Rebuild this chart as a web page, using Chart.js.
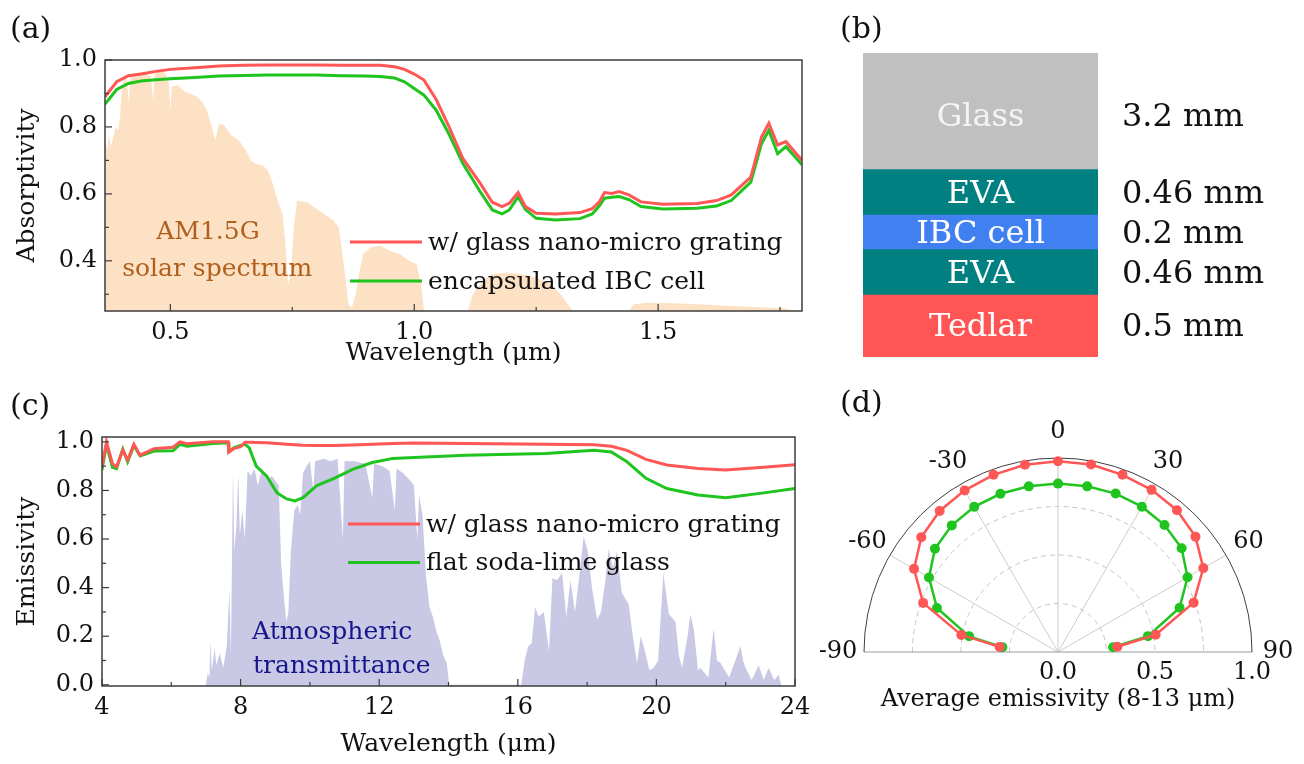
<!DOCTYPE html>
<html>
<head>
<meta charset="utf-8">
<script src="https://cdn.jsdelivr.net/npm/chart.js@4.4.1/dist/chart.umd.min.js"></script>
<style>
  html, body { margin: 0; padding: 0; background: #fff; overflow: hidden; }
  #page { position: relative; width: 1304px; height: 764px; overflow: hidden; font-family: 'DejaVu Serif', serif; }
  canvas { position: absolute; }
  .tag { position: absolute; font-size: 30px; line-height: 34px; color: #111; }
</style>
</head>
<body>
<div id="page">
  <canvas id="abs-chart" style="left:0;top:0" width="820" height="380"></canvas>
  <canvas id="stack-chart" style="left:820px;top:0" width="484" height="380"></canvas>
  <canvas id="em-chart" style="left:0;top:380px" width="820" height="384"></canvas>
  <canvas id="polar-chart" style="left:820px;top:400px" width="484" height="364"></canvas>
  <div class="tag" style="left:10px;top:11px">(a)</div>
  <div class="tag" style="left:840px;top:11px">(b)</div>
  <div class="tag" style="left:10px;top:388px">(c)</div>
  <div class="tag" style="left:840px;top:385px">(d)</div>
</div>
<script>
// (a) absorptivity
const absWl = [0.366, 0.39, 0.414, 0.44, 0.47, 0.5, 0.55, 0.6, 0.65, 0.7, 0.75, 0.8, 0.85, 0.9, 0.93, 0.96, 0.98, 1.0, 1.02, 1.045, 1.07, 1.1, 1.135, 1.16, 1.18, 1.195, 1.213, 1.228, 1.25, 1.29, 1.34, 1.365, 1.38, 1.39, 1.405, 1.42, 1.44, 1.465, 1.51, 1.58, 1.62, 1.65, 1.69, 1.712, 1.727, 1.745, 1.762, 1.795];
const absGrating = [0.89, 0.935, 0.953, 0.958, 0.966, 0.972, 0.977, 0.982, 0.984, 0.985, 0.985, 0.985, 0.984, 0.984, 0.984, 0.98, 0.972, 0.958, 0.94, 0.882, 0.805, 0.705, 0.632, 0.575, 0.562, 0.572, 0.604, 0.562, 0.542, 0.54, 0.544, 0.556, 0.577, 0.604, 0.601, 0.607, 0.597, 0.576, 0.569, 0.571, 0.58, 0.597, 0.65, 0.77, 0.811, 0.746, 0.756, 0.70];
const absIbc = [0.868, 0.912, 0.93, 0.937, 0.941, 0.944, 0.948, 0.952, 0.954, 0.955, 0.955, 0.955, 0.953, 0.952, 0.951, 0.946, 0.935, 0.915, 0.895, 0.85, 0.782, 0.69, 0.607, 0.552, 0.54, 0.552, 0.591, 0.553, 0.527, 0.522, 0.526, 0.54, 0.565, 0.587, 0.59, 0.592, 0.583, 0.562, 0.555, 0.557, 0.564, 0.58, 0.635, 0.75, 0.79, 0.72, 0.741, 0.687];
const solarWl = [0.366, 0.37, 0.374, 0.378, 0.383, 0.388, 0.393, 0.397, 0.40, 0.405, 0.41, 0.415, 0.418, 0.43, 0.44, 0.45, 0.46, 0.465, 0.468, 0.48, 0.49, 0.497, 0.5, 0.503, 0.515, 0.53, 0.54, 0.555, 0.565, 0.575, 0.585, 0.592, 0.60, 0.61, 0.625, 0.64, 0.655, 0.665, 0.675, 0.69, 0.70, 0.71, 0.72, 0.73, 0.736, 0.741, 0.747, 0.753, 0.76, 0.78, 0.80, 0.82, 0.835, 0.845, 0.852, 0.858, 0.865, 0.872, 0.88, 0.888, 0.895, 0.91, 0.93, 0.95, 0.97, 0.99, 1.005, 1.015, 1.02, 1.11, 1.12, 1.14, 1.16, 1.19, 1.22, 1.25, 1.28, 1.30, 1.315, 1.325, 1.44, 1.45, 1.48, 1.52, 1.58, 1.64, 1.70, 1.76, 1.78, 1.795];
const solarVal = [0.76, 0.73, 0.78, 0.74, 0.77, 0.80, 0.79, 0.83, 0.91, 0.95, 0.955, 0.87, 0.955, 0.96, 0.965, 0.96, 0.95, 0.88, 0.96, 0.97, 0.96, 0.93, 0.85, 0.92, 0.925, 0.905, 0.90, 0.89, 0.875, 0.85, 0.80, 0.76, 0.81, 0.805, 0.775, 0.76, 0.73, 0.70, 0.69, 0.685, 0.67, 0.63, 0.58, 0.54, 0.45, 0.33, 0.36, 0.50, 0.58, 0.575, 0.555, 0.535, 0.52, 0.50, 0.43, 0.36, 0.27, 0.26, 0.30, 0.37, 0.42, 0.44, 0.445, 0.43, 0.42, 0.40, 0.39, 0.32, 0.25, 0.25, 0.30, 0.34, 0.36, 0.365, 0.36, 0.35, 0.33, 0.30, 0.27, 0.25, 0.25, 0.27, 0.275, 0.274, 0.27, 0.266, 0.262, 0.258, 0.25, 0.25];
const absXTicks = [0.5, 1.0, 1.5];
const absYTicks = [0.4, 0.6, 0.8, 1.0];

// (b) layer stack, top to bottom
const layerNames = ['Glass', 'EVA', 'IBC cell', 'EVA', 'Tedlar'];
const layerThickness = ['3.2 mm', '0.46 mm', '0.2 mm', '0.46 mm', '0.5 mm'];
const layerDrawn = [1.15, 0.45, 0.34, 0.45, 0.61];

// (c) emissivity
const emWl = [4.0, 4.13, 4.3, 4.42, 4.6, 4.74, 4.92, 5.1, 5.5, 6.05, 6.25, 6.45, 7.2, 7.64, 7.66, 7.8, 8.0, 8.13, 8.25, 8.45, 8.75, 9.05, 9.33, 9.57, 9.8, 10.2, 10.7, 11.25, 11.8, 12.4, 13.0, 14.5, 16.8, 18.2, 18.7, 19.15, 19.7, 20.3, 21.2, 22.0, 23.1, 24.0];
const emGrating = [0.897, 1.0, 0.91, 0.897, 0.966, 0.925, 0.99, 0.945, 0.972, 0.978, 1.0, 0.992, 1.0, 1.0, 0.958, 0.972, 0.98, 0.998, 0.998, 0.997, 0.996, 0.993, 0.99, 0.988, 0.986, 0.985, 0.985, 0.987, 0.99, 0.993, 0.995, 0.993, 0.99, 0.988, 0.982, 0.965, 0.928, 0.905, 0.89, 0.884, 0.895, 0.906];
const emFlat = [0.884, 0.99, 0.895, 0.89, 0.97, 0.918, 0.985, 0.942, 0.962, 0.963, 0.99, 0.982, 0.993, 0.996, 0.96, 0.975, 0.985, 0.99, 0.975, 0.9, 0.86, 0.79, 0.765, 0.757, 0.77, 0.82, 0.85, 0.888, 0.915, 0.932, 0.936, 0.945, 0.952, 0.965, 0.958, 0.918, 0.85, 0.808, 0.781, 0.77, 0.79, 0.808];
const atmWl = [7.0, 7.05, 7.1, 7.13, 7.17, 7.25, 7.3, 7.4, 7.5, 7.6, 7.68, 7.72, 7.78, 7.82, 7.88, 7.93, 7.98, 8.05, 8.12, 8.2, 8.3, 8.4, 8.5, 8.6, 8.7, 8.8, 8.9, 9.0, 9.1, 9.17, 9.25, 9.32, 9.38, 9.45, 9.55, 9.65, 9.72, 9.8, 9.9, 10.0, 10.1, 10.15, 10.4, 10.6, 10.8, 10.95, 11.0, 11.3, 11.6, 11.8, 11.85, 12.1, 12.3, 12.45, 12.5, 12.7, 12.9, 13.0, 13.1, 13.15, 13.25, 13.35, 13.45, 13.55, 13.65, 13.75, 13.85, 13.95, 14.02, 16.1, 16.2, 16.3, 16.4, 16.5, 16.6, 16.75, 16.9, 17.0, 17.13, 17.28, 17.4, 17.52, 17.65, 17.76, 17.9, 18.02, 18.14, 18.29, 18.4, 18.53, 18.62, 18.75, 18.86, 19.0, 19.2, 19.32, 19.44, 19.55, 19.63, 19.8, 19.92, 20.05, 20.2, 20.36, 20.55, 20.65, 20.74, 20.9, 20.98, 21.08, 21.2, 21.27, 21.5, 21.65, 21.75, 21.85, 22.1, 22.43, 22.5, 22.57, 22.75, 22.95, 23.1, 23.24, 23.4, 23.53, 23.6];
const atmVal = [0, 0.05, 0.03, 0.18, 0.06, 0.15, 0.08, 0.13, 0.07, 0.16, 0.39, 0.12, 0.88, 0.55, 0.66, 0.87, 0.62, 0.72, 0.6, 0.88, 0.86, 0.89, 0.82, 0.88, 0.87, 0.84, 0.86, 0.84, 0.82, 0.5, 0.36, 0.26, 0.3, 0.55, 0.72, 0.74, 0.7, 0.87, 0.9, 0.92, 0.8, 0.92, 0.93, 0.92, 0.93, 0.6, 0.92, 0.92, 0.91, 0.77, 0.91, 0.9, 0.88, 0.72, 0.89, 0.87, 0.84, 0.82, 0.6, 0.78, 0.7, 0.45, 0.32, 0.28, 0.22, 0.18, 0.12, 0.09, 0, 0, 0.1, 0.16, 0.17, 0.32, 0.28, 0.3, 0.14, 0.44, 0.43, 0.46, 0.28, 0.43, 0.3, 0.43, 0.61, 0.55, 0.4, 0.27, 0.3, 0.43, 0.56, 0.48, 0.55, 0.38, 0.33, 0.2, 0.09, 0.2, 0.16, 0.06, 0.07, 0.1, 0.46, 0.29, 0.26, 0.12, 0.07, 0.2, 0.29, 0.23, 0.06, 0.07, 0.03, 0.23, 0.1, 0.09, 0.03, 0.16, 0.1, 0.07, 0.02, 0.08, 0.02, 0.07, 0.02, 0.04, 0];
const emXTicks = [4, 8, 12, 16, 20, 24];
const emYTicks = [0.0, 0.2, 0.4, 0.6, 0.8, 1.0];

// (d) angular average emissivity 8-13 um (angle in degrees, radius = emissivity)
const polarAngles = [-85, -80, -70, -60, -50, -40, -30, -20, -10, 0, 10, 20, 30, 40, 50, 60, 70, 80, 85];
const polarGrating = [0.302, 0.506, 0.74, 0.857, 0.92, 0.949, 0.962, 0.972, 0.98, 0.983, 0.981, 0.972, 0.965, 0.954, 0.925, 0.865, 0.744, 0.511, 0.307];
const polarFlat = [0.288, 0.465, 0.664, 0.768, 0.828, 0.852, 0.864, 0.868, 0.867, 0.868, 0.867, 0.869, 0.865, 0.854, 0.832, 0.771, 0.667, 0.471, 0.285];
const polarTicks = [0.0, 0.5, 1.0];
const polarRings = [0.25, 0.5, 0.75];
const polarAngleTicks = [-90, -60, -30, 0, 30, 60, 90];

const RED = '#ff5656';
const GREEN = '#1fc41f';
const SERIF = "'DejaVu Serif', serif";

Chart.defaults.font.family = SERIF;
Chart.defaults.font.size = 24;
Chart.defaults.color = '#111';
Chart.defaults.animation = false;
Chart.defaults.plugins.legend.display = false;
Chart.defaults.plugins.tooltip.enabled = false;

const pairs = (xs, ys) => xs.map((x, i) => ({x: x, y: ys[i]}));

// box around the plot with inward major/minor ticks
const framePlugin = {
    id: 'frame',
    afterDatasetsDraw(chart) {
        const {ctx, chartArea: a, scales} = chart;
        ctx.save();
        ctx.strokeStyle = '#3c3c3c';
        ctx.lineWidth = 1.5;
        ctx.strokeRect(a.left, a.top, a.right - a.left, a.bottom - a.top);
        ctx.lineWidth = 1.2;
        ['x', 'y'].forEach(id => {
            const s = scales[id];
            const major = s.ticks.map(t => t.value);
            const step = major[1] - major[0];
            const marks = major.map(v => [v, 7]);
            for (let v = major[0] - step / 2; v <= major[major.length - 1] + step; v += step) marks.push([v, 4]);
            marks.forEach(([v, len]) => {
                if (v < s.min - 1e-9 || v > s.max + 1e-9) return;
                const p = s.getPixelForValue(v);
                ctx.beginPath();
                if (id === 'x') { ctx.moveTo(p, a.bottom); ctx.lineTo(p, a.bottom - len); }
                else { ctx.moveTo(a.left, p); ctx.lineTo(a.left + len, p); }
                ctx.stroke();
            });
        });
        ctx.restore();
    }
};

function lineLegend(left, top, gap) {
    return {
        id: 'lineLegend',
        afterDatasetsDraw(chart) {
            const {ctx, chartArea: a} = chart;
            ctx.save();
            ctx.font = '25px ' + SERIF;
            ctx.textBaseline = 'middle';
            ctx.fillStyle = '#111';
            chart.data.datasets.filter(d => d.inLegend).forEach((d, i) => {
                const x = a.left + left;
                const y = a.top + top + i * gap;
                ctx.strokeStyle = d.borderColor;
                ctx.lineWidth = 3;
                ctx.beginPath();
                ctx.moveTo(x, y);
                ctx.lineTo(x + 72, y);
                ctx.stroke();
                ctx.fillText(d.label, x + 78, y + 1);
            });
            ctx.restore();
        }
    };
}

function notes(lines, color, align) {
    return {
        id: 'notes',
        afterDatasetsDraw(chart) {
            const {ctx, scales: {x, y}} = chart;
            ctx.save();
            ctx.font = '25px ' + SERIF;
            ctx.fillStyle = color;
            ctx.textAlign = align;
            ctx.textBaseline = 'middle';
            lines.forEach(l => ctx.fillText(l[0], x.getPixelForValue(l[1]), y.getPixelForValue(l[2])));
            ctx.restore();
        }
    };
}

function xAxis(min, max, ticks, fmt, height) {
    return {
        type: 'linear', min: min, max: max,
        afterBuildTicks: s => { s.ticks = ticks.map(v => ({value: v})); },
        afterFit: s => { s.height = height; },
        grid: {display: false, drawTicks: false},
        border: {display: false},
        ticks: {padding: 7, maxRotation: 0, callback: fmt},
        title: {display: true, text: 'Wavelength (μm)', padding: 0, font: {size: 25}}
    };
}

function yAxis(min, max, ticks, title, width) {
    return {
        type: 'linear', min: min, max: max,
        afterBuildTicks: s => { s.ticks = ticks.map(v => ({value: v})); },
        afterFit: s => { s.width = width; },
        grid: {display: false, drawTicks: false},
        border: {display: false},
        ticks: {padding: 8, callback: v => v.toFixed(1)},
        title: {display: true, text: title, padding: 0, font: {size: 25}}
    };
}

const curve = (label, color, data) => ({
    label: label, data: data, inLegend: true,
    borderColor: color, backgroundColor: color,
    borderWidth: 3, pointRadius: 0, fill: false, tension: 0
});

// (a)
new Chart(document.getElementById('abs-chart'), {
    type: 'line',
    data: {
        datasets: [
            curve('w/ glass nano-micro grating', RED, pairs(absWl, absGrating)),
            curve('encapsulated IBC cell', GREEN, pairs(absWl, absIbc)),
            {
                label: 'AM1.5G', data: pairs(solarWl, solarVal),
                borderWidth: 0, pointRadius: 0, fill: 'start',
                backgroundColor: '#fde1c4', tension: 0
            }
        ]
    },
    options: {
        responsive: false,
        layout: {padding: {left: 12, top: 60, right: 18, bottom: 12}},
        scales: {
            x: xAxis(0.366, 1.795, absXTicks, v => v.toFixed(1), 57),
            y: yAxis(0.25, 1.0, absYTicks, 'Absorptivity', 93)
        }
    },
    plugins: [
        notes([['AM1.5G', 0.577, 0.484], ['solar spectrum', 0.596, 0.373]], '#b0601c', 'center'),
        lineLegend(245, 182, 39),
        framePlugin
    ]
});

// (b)
const layerColors = ['#c0c0c0', '#008080', '#4080f0', '#008080', '#ff5555'];
const layerText = {
    id: 'layerText',
    afterDatasetsDraw(chart) {
        const {ctx, chartArea: a} = chart;
        ctx.save();
        ctx.font = '32px ' + SERIF;
        ctx.textBaseline = 'middle';
        chart.data.datasets.forEach((d, i) => {
            const bar = chart.getDatasetMeta(i).data[0];
            const y = (bar.y + bar.base) / 2 + (d.label === 'Glass' ? 6 : 2);
            ctx.textAlign = 'center';
            ctx.fillStyle = d.label === 'Glass' ? '#f4f4f4' : '#ffffff';
            ctx.fillText(d.label, bar.x, y);
            ctx.textAlign = 'left';
            ctx.fillStyle = '#111';
            ctx.fillText(d.thickness, a.right + 24, y);
        });
        ctx.restore();
    }
};
new Chart(document.getElementById('stack-chart'), {
    type: 'bar',
    data: {
        labels: ['module'],
        datasets: layerNames.map((name, i) => ({
            label: name, thickness: layerThickness[i], data: [layerDrawn[i]],
            backgroundColor: layerColors[i], borderWidth: 0,
            barPercentage: 1, categoryPercentage: 1
        })).reverse()
    },
    options: {
        responsive: false,
        layout: {padding: {left: 43, right: 206, top: 53, bottom: 23}},
        scales: {
            x: {display: false, stacked: true},
            y: {display: false, stacked: true, min: 0, max: 3.0}
        }
    },
    plugins: [layerText]
});

// (c)
new Chart(document.getElementById('em-chart'), {
    type: 'line',
    data: {
        datasets: [
            curve('w/ glass nano-micro grating', RED, pairs(emWl, emGrating)),
            curve('flat soda-lime glass', GREEN, pairs(emWl, emFlat)),
            {
                label: 'Atmospheric transmittance', data: pairs(atmWl, atmVal),
                borderWidth: 0, pointRadius: 0, fill: 'start',
                backgroundColor: '#c9c9e5', tension: 0
            }
        ]
    },
    options: {
        responsive: false,
        layout: {padding: {left: 12, top: 57, right: 25, bottom: 5}},
        scales: {
            x: xAxis(4, 24, emXTicks, v => String(v), 73),
            y: yAxis(-0.005, 1.02, emYTicks, 'Emissivity', 90)
        }
    },
    plugins: [
        notes([['Atmospheric', 8.33, 0.214], ['transmittance', 8.36, 0.074]], '#16168c', 'left'),
        lineLegend(246, 87, 38.4),
        framePlugin
    ]
});

// (d) half polar plot: angle/radius pairs projected onto equal x/y linear scales
const toPlane = vals => polarAngles.map((a, i) => {
    const t = a * Math.PI / 180;
    return {x: vals[i] * Math.sin(t), y: vals[i] * Math.cos(t)};
});
const polarGrid = {
    id: 'polarGrid',
    beforeDatasetsDraw(chart) {
        const {ctx, scales: {x, y}} = chart;
        const cx = x.getPixelForValue(0), cy = y.getPixelForValue(0);
        const R = x.getPixelForValue(1) - cx;
        ctx.save();
        ctx.lineWidth = 1;
        ctx.strokeStyle = '#c4c4c4';
        ctx.setLineDash([5, 4]);
        polarRings.forEach(v => {
            ctx.beginPath();
            ctx.arc(cx, cy, x.getPixelForValue(v) - cx, Math.PI, 2 * Math.PI);
            ctx.stroke();
        });
        ctx.setLineDash([]);
        ctx.strokeStyle = '#cccccc';
        polarAngleTicks.forEach(a => {
            if (Math.abs(a) === 90) return;
            const t = a * Math.PI / 180;
            ctx.beginPath();
            ctx.moveTo(cx, cy);
            ctx.lineTo(cx + R * Math.sin(t), cy - R * Math.cos(t));
            ctx.stroke();
        });
        ctx.strokeStyle = '#9a9a9a';
        ctx.beginPath();
        ctx.moveTo(cx - R, cy);
        ctx.lineTo(cx + R, cy);
        ctx.stroke();
        ctx.strokeStyle = '#3f3f3f';
        ctx.beginPath();
        ctx.arc(cx, cy, R, Math.PI, 2 * Math.PI);
        ctx.stroke();
        ctx.restore();
    },
    afterDraw(chart) {
        const {ctx, scales: {x, y}} = chart;
        const cx = x.getPixelForValue(0), cy = y.getPixelForValue(0);
        const R = x.getPixelForValue(1) - cx + 26;
        ctx.save();
        ctx.fillStyle = '#111';
        ctx.font = '24px ' + SERIF;
        ctx.textAlign = 'center';
        ctx.textBaseline = 'middle';
        polarAngleTicks.forEach(a => {
            const t = a * Math.PI / 180;
            ctx.fillText(String(a), cx + R * Math.sin(t), cy - R * Math.cos(t));
        });
        ctx.restore();
    }
};
const polarSet = (label, color, vals) => ({
    label: label, data: toPlane(vals), showLine: true, clip: false,
    borderColor: color, backgroundColor: color, pointBackgroundColor: color,
    pointBorderWidth: 0, pointRadius: 5, borderWidth: 2.5, tension: 0
});
new Chart(document.getElementById('polar-chart'), {
    type: 'scatter',
    data: {
        datasets: [
            polarSet('w/ glass nano-micro grating', RED, polarGrating),
            polarSet('flat soda-lime glass', GREEN, polarFlat)
        ]
    },
    options: {
        responsive: false,
        layout: {padding: {left: 44, right: 52, top: 58, bottom: 50}},
        scales: {
            x: {
                type: 'linear', min: -1, max: 1,
                afterBuildTicks: s => { s.ticks = polarTicks.map(v => ({value: v})); },
                afterFit: s => { s.height = 62; },
                grid: {display: false, drawTicks: false},
                border: {display: false},
                ticks: {padding: 6, maxRotation: 0, callback: v => v.toFixed(1)},
                title: {display: true, text: 'Average emissivity (8-13 μm)', padding: 0, font: {size: 24}}
            },
            y: {type: 'linear', min: 0, max: 1, display: false}
        }
    },
    plugins: [polarGrid]
});
</script>
</body>
</html>
